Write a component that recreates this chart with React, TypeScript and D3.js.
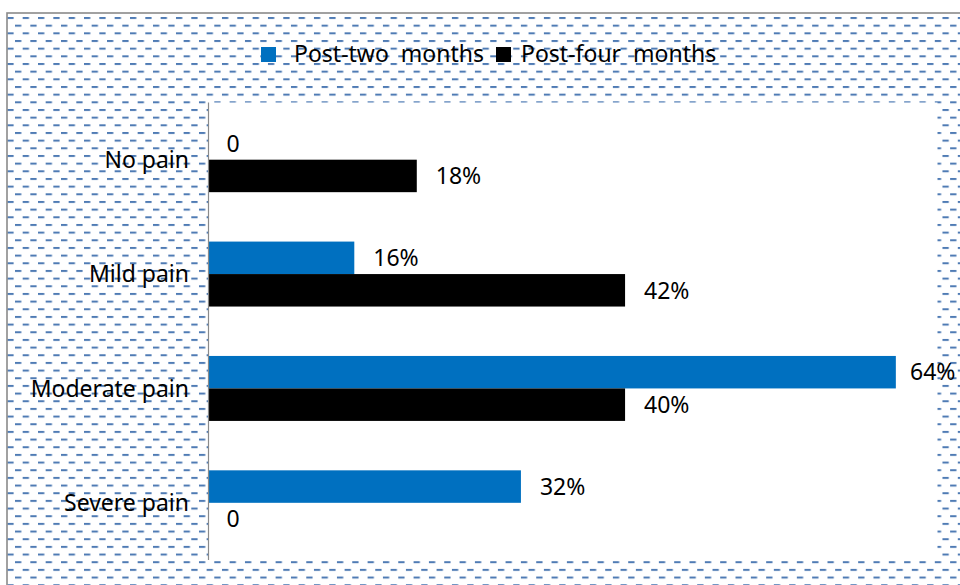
import React from "react";
import * as d3 from "d3";

const categories = ["No pain", "Mild pain", "Moderate pain", "Severe pain"];
const seriesNames = ["Post-two  months", "Post-four  months"];
const seriesColors = ["#0070C0", "#000000"];
const postTwoValues = [0, 7, 33, 15];
const postFourValues = [10, 20, 20, 0];
const postTwoLabels = ["0", "16%", "64%", "32%"];
const postFourLabels = ["18%", "42%", "40%", "0"];
const xMax = 35;

const W = 960;
const H = 585;
const FONT = "'Noto Sans', 'Open Sans', sans-serif";
const FS = 23;

const plot = { left: 208.5, right: 937.5, top: 102.5, bottom: 560 };

export default function App() {
  const x = d3.scaleLinear().domain([0, xMax]).range([plot.left, plot.right]);
  const y = d3
    .scaleBand<string>()
    .domain(categories)
    .range([plot.top, plot.bottom])
    .paddingInner(0.432)
    .paddingOuter(0.216);
  const sub = d3
    .scaleBand<number>()
    .domain([0, 1])
    .range([0, y.bandwidth()]);

  const seriesValues = [postTwoValues, postFourValues];
  const seriesLabels = [postTwoLabels, postFourLabels];

  return (
    <svg
      width={W}
      height={H}
      style={{ position: "absolute", left: 0, top: 0, background: "#fff" }}
      fontFamily={FONT}
    >
      <defs>
        <pattern
          id="dashHorz"
          patternUnits="userSpaceOnUse"
          x={15}
          y={17}
          width={15.33}
          height={15.33}
        >
          <rect x={7.67} y={0} width={6.3} height={2} fill="#4f7bb4" />
          <rect x={0} y={7.67} width={6.3} height={2} fill="#4f7bb4" />
        </pattern>
      </defs>
      <rect x={7} y={13} width={W + 10} height={H + 10} fill="#fff" />
      <rect x={7} y={13} width={W + 10} height={H + 10} fill="url(#dashHorz)" stroke="#8a8a8a" strokeWidth={1.6} />
      <rect
        x={plot.left}
        y={plot.top}
        width={plot.right - plot.left}
        height={plot.bottom - plot.top}
        fill="#fff"
      />
      {categories.map((c, ci) => {
        const band = y(c) as number;
        return (
          <g key={c}>
            {seriesValues.map((vals, si) => {
              const by = band + (sub(si) as number);
              const bw = x(vals[ci]) - x(0);
              const end = x(vals[ci]);
              const lx = Math.min(end + 19, W - 4 - 46);
              return (
                <g key={si}>
                  {bw > 0 && (
                    <rect
                      x={x(0)}
                      y={by}
                      width={bw}
                      height={sub.bandwidth()}
                      fill={seriesColors[si]}
                    />
                  )}
                  <text
                    x={seriesLabels[si][ci] === "0" ? end + 18 : lx}
                    y={by + sub.bandwidth() / 2 + FS * 0.36}
                    fontSize={FS}
                    fill="#000"
                  >
                    {seriesLabels[si][ci]}
                  </text>
                </g>
              );
            })}
            <text
              x={189}
              y={band + y.bandwidth() / 2 + FS * 0.36}
              fontSize={FS}
              textAnchor="end"
              fill="#000"
            >
              {c}
            </text>
          </g>
        );
      })}
      <line
        x1={plot.left}
        x2={plot.left}
        y1={plot.top}
        y2={plot.bottom}
        stroke="#8a8a8a"
        strokeWidth={1.2}
      />
      <g>
        {seriesNames.map((s, i) => {
          const lx = i === 0 ? 261 : 496;
          const tx = i === 0 ? 294 : 521;
          return (
            <g key={s}>
              <rect x={lx} y={47} width={15} height={15} fill={seriesColors[i]} />
              <text x={tx} y={62} fontSize={FS} fill="#000" style={{ whiteSpace: "pre" }}>
                {s}
              </text>
            </g>
          );
        })}
      </g>
    </svg>
  );
}
